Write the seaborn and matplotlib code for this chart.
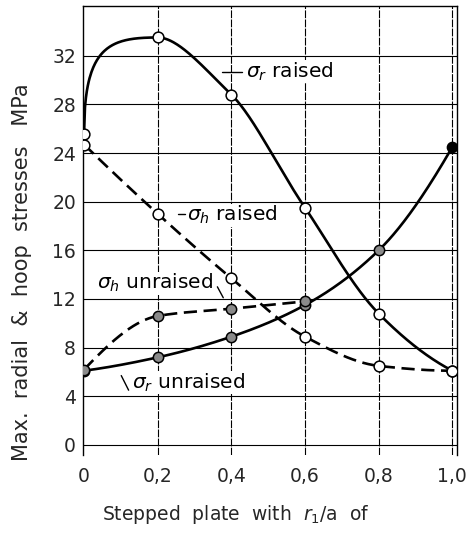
import numpy as np
import pandas as pd
import matplotlib
matplotlib.use("Agg")
import matplotlib.pyplot as plt
import seaborn as sns

# r1/a ratios of the stepped plate
ratio = [0.0, 0.2, 0.4, 0.6, 0.8, 1.0]

# Maximum stresses (MPa)
sigma_r_raised = [25.6, 33.5, 28.8, 19.5, 10.8, 6.1]
sigma_h_raised = [24.7, 19.0, 13.7, 8.9, 6.5, 6.1]
sigma_r_unraised = [6.1, 7.2, 8.9, 11.5, 16.0, 24.5]
ratio_h_unraised = [0.0, 0.2, 0.4, 0.6]
sigma_h_unraised = [6.2, 10.6, 11.2, 11.8]

x_ticks = [0.0, 0.2, 0.4, 0.6, 0.8, 1.0]
x_ticklabels = ["0", "0,2", "0,4", "0,6", "0,8", "1,0"]
y_ticks = [0, 4, 8, 12, 16, 20, 24, 28, 32]


def pchip(x, y, xs):
    """Shape-preserving cubic through the measured points (for drawing the curve)."""
    x = np.asarray(x, float)
    y = np.asarray(y, float)
    h = np.diff(x)
    d = np.diff(y) / h
    n = len(x)
    m = np.zeros(n)
    for k in range(1, n - 1):
        if d[k - 1] * d[k] > 0:
            w1 = 2 * h[k] + h[k - 1]
            w2 = h[k] + 2 * h[k - 1]
            m[k] = (w1 + w2) / (w1 / d[k - 1] + w2 / d[k])
    def end(h0, h1, d0, d1):
        s = ((2 * h0 + h1) * d0 - h0 * d1) / (h0 + h1)
        if np.sign(s) != np.sign(d0):
            s = 0.0
        elif np.sign(d0) != np.sign(d1) and abs(s) > abs(3 * d0):
            s = 3 * d0
        return s
    if n > 2:
        m[0] = end(h[0], h[1], d[0], d[1])
        m[-1] = end(h[-1], h[-2], d[-1], d[-2])
    else:
        m[:] = d[0]
    idx = np.clip(np.searchsorted(x, xs) - 1, 0, n - 2)
    t = (xs - x[idx]) / h[idx]
    h00 = 2 * t**3 - 3 * t**2 + 1
    h10 = t**3 - 2 * t**2 + t
    h01 = -2 * t**3 + 3 * t**2
    h11 = t**3 - t**2
    return (h00 * y[idx] + h10 * h[idx] * m[idx]
            + h01 * y[idx + 1] + h11 * h[idx] * m[idx + 1])


def smooth(x, y, sqrt_axis=False):
    """Dense curve through the points; optionally on a sqrt(x) scale for a steep start."""
    xd = np.linspace(x[0], x[-1], 400)
    if sqrt_axis:
        return xd, pchip(np.sqrt(x), y, np.sqrt(xd))
    return xd, pchip(x, y, xd)


sns.set_style("white")
plt.rcParams["font.family"] = ["DejaVu Sans"]

fig = plt.figure(figsize=(4.66, 5.33), dpi=100)
ax = fig.add_axes([0.178, 0.147, 0.803, 0.842])

ax.set_xlim(-0.003, 1.013)
ax.set_ylim(-0.8, 36.1)

# grid
for yv in y_ticks:
    ax.axhline(yv, color="black", lw=0.8, zorder=1)
for xv in x_ticks[1:]:
    ax.axvline(xv, color="black", lw=0.8, ls=(0, (7, 1.2)), zorder=1)

for side in ["left", "top", "right"]:
    ax.spines[side].set_color("black")
    ax.spines[side].set_linewidth(1.0)
ax.spines["bottom"].set_visible(False)

dash = (0, (5, 2.5))
curves = [
    (ratio, sigma_r_raised, "-", True),
    (ratio, sigma_h_raised, dash, False),
    (ratio, sigma_r_unraised, "-", False),
    (ratio_h_unraised, sigma_h_unraised, dash, False),
]
for xs_, ys_, ls, sq in curves:
    xd, yd = smooth(xs_, ys_, sq)
    sns.lineplot(x=xd, y=yd, ax=ax, color="black", lw=1.9, linestyle=ls,
                 zorder=3, sort=False)

open_pts = pd.DataFrame({
    "r": ratio + ratio,
    "s": sigma_r_raised + sigma_h_raised,
})
sns.scatterplot(data=open_pts, x="r", y="s", ax=ax, s=60, marker="o",
                facecolor="white", edgecolor="black", linewidth=1.1, zorder=5)

shaded = pd.DataFrame({
    "r": ratio[:-1] + ratio_h_unraised,
    "s": sigma_r_unraised[:-1] + sigma_h_unraised,
})
sns.scatterplot(data=shaded, x="r", y="s", ax=ax, s=55, marker="o",
                facecolor="#8a8a8a", edgecolor="black", linewidth=1.1, zorder=5)
ax.scatter([ratio[-1]], [sigma_r_unraised[-1]], s=55, color="black", zorder=6)

# curve labels
tkw = dict(fontsize=14.5, color="black", zorder=4,
           bbox=dict(facecolor="white", edgecolor="none", pad=0.3))
ax.text(0.44, 30.7, r"$\sigma_r$ raised", va="center", ha="left", **tkw)
ax.plot([0.375, 0.43], [30.7, 30.7], color="black", lw=1.0, zorder=4)
ax.text(0.279, 18.9, r"$\sigma_h$ raised", va="center", ha="left", **tkw)
ax.plot([0.255, 0.274], [19.0, 19.0], color="black", lw=1.0, zorder=4)
ax.text(0.035, 13.3, r"$\sigma_h$ unraised", va="center", ha="left", **tkw)
ax.plot([0.362, 0.378], [13.0, 12.1], color="black", lw=1.0, zorder=4)
ax.text(0.13, 5.1, r"$\sigma_r$ unraised", va="center", ha="left", **tkw)
ax.plot([0.101, 0.121], [5.7, 4.5], color="black", lw=1.0, zorder=4)

ax.set_xticks(x_ticks)
ax.set_xticklabels(x_ticklabels)
ax.set_yticks(y_ticks)
ax.tick_params(axis="both", labelsize=13.5, length=0, pad=5)
ax.tick_params(axis="x", pad=9)

ax.set_xlabel("")
ax.set_ylabel("")
fig.text(236 / 466, 1 - 515 / 533, r"Stepped  plate  with  $r_1$/a  of",
         fontsize=13.5, ha="center", va="center")
fig.text(22 / 466, 1 - 272 / 533, "Max.  radial  &  hoop  stresses   MPa",
         fontsize=15, ha="center", va="center", rotation=90)

fig.savefig("out.png", dpi=100)
